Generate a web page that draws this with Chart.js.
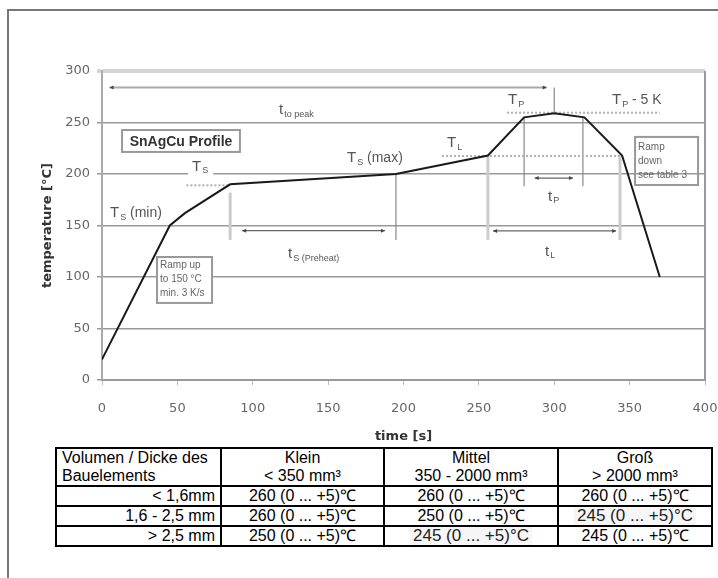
<!DOCTYPE html>
<html>
<head>
<meta charset="utf-8">
<script src="https://cdn.jsdelivr.net/npm/chart.js@4.4.1/dist/chart.umd.min.js"></script>
<style>
body { margin: 0; background: #fff; width: 718px; height: 578px; overflow: hidden; position: relative; font-family: Arial, "Liberation Sans", sans-serif; }
#frame { position: absolute; left: 7px; top: 9px; width: 720px; height: 580px; border-left: 2px solid #777; border-top: 2px solid #777; }
#profil { position: absolute; left: 0; top: 0; }
#tabelle { position: absolute; left: 55px; top: 447px; width: 656px; border-collapse: collapse; table-layout: fixed; font-size: 16px; color: #000; }
#tabelle td { border: 2px solid #000; padding: 0 5px; line-height: 18px; height: 18px; white-space: nowrap; text-align: center; overflow: hidden; }
#tabelle td.kopf1 { text-align: left; }
#tabelle td.zeile { text-align: right; }
#tabelle tr.kopf td { border-bottom: 2px solid #000; }
.grau { font-size: 17px; color: #222; border-bottom: 1px dotted #999; background: #f6f6f6; padding: 0 3px; }
</style>
</head>
<body>
<div id="frame"></div>
<canvas id="profil" width="718" height="445"></canvas>
<table id="tabelle">
  <colgroup><col style="width:165px"><col style="width:163px"><col style="width:174px"><col style="width:154px"></colgroup>
  <tbody></tbody>
</table>
<script>
// Lötprofil SnAgCu - Daten

const zeit = [0, 45, 55, 85, 195, 256, 280, 300, 320, 345, 370];
const temperatur = [20, 150, 162, 190, 200, 218, 255, 259, 255, 218, 100];

const xTicks = [0, 50, 100, 150, 200, 250, 300, 350, 400];
const yTicks = [0, 50, 100, 150, 200, 250, 300];

// Beschriftungen im Diagramm: [zeit, temperatur, haupt, index, rest]
const beschriftungen = [
    [117.4, 262, 't', 'to peak', ''],
    [59.7, 206.8, 'T', 'S', ''],
    [5.3, 162, 'T', 'S', ' (min)'],
    [123.4, 122.3, 't', 'S (Preheat)', ''],
    [162.5, 215.5, 'T', 'S', ' (max)'],
    [228.9, 230, 'T', 'L', ''],
    [269.3, 271.8, 'T', 'P', ''],
    [338.3, 271.8, 'T', 'P', ' - 5 K'],
    [295.9, 177.7, 't', 'P', ''],
    [293.9, 124.3, 't', 'L', '']
];

// Pfeile (waagrecht): [temperatur, von, bis]
const pfeile = [
    [284, 5, 295],
    [145, 93, 187.7],
    [196, 287, 312.4],
    [144.7, 259.4, 341]
];

// gepunktete Linien: [temperatur, von, bis]
const punktLinien = [
    [189, 56, 85],
    [217.5, 225.5, 345.6],
    [259.5, 268.7, 370]
];

// senkrechte Linien: [zeit, von, bis, hell]
const senkrechte = [
    [300, 284, 260, false],
    [85, 182, 136, true],
    [195, 200, 136, false],
    [280, 255, 188, false],
    [319, 255, 188, false],
    [256, 217.5, 136, true],
    [343.6, 217.5, 136, true]
];

// Kästen: [zeit1, zeit2, temp1, temp2, zeilen]
const profilKasten = [13.3, 91.5, 242.7, 221.4, ['SnAgCu Profile']];
const rampeKasten = [36.5, 73, 119.4, 74.8, ['Ramp up', 'to 150 °C', 'min. 3 K/s']];
const abKasten = [353.6, 395.4, 236, 189.3, ['Ramp', 'down', 'see table 3']];

// Tabelle
const kopfZeile = ['Volumen / Dicke des<br>Bauelements', 'Klein<br>&lt; 350 mm³', 'Mittel<br>350 - 2000 mm³', 'Groß<br>&gt; 2000 mm³'];
const dicken = ['&lt; 1,6mm', '1,6 - 2,5 mm', '&gt; 2,5 mm'];
const werteKlein = ['260 (0 ... +5)℃', '260 (0 ... +5)℃', '250 (0 ... +5)℃'];
const werteMittel = ['260 (0 ... +5)℃', '250 (0 ... +5)℃', '245 (0 ... +5)°C'];
const werteGross = ['260 (0 ... +5)℃', '245 (0 ... +5)°C', '245 (0 ... +5)℃'];

function baueTabelle() {
    const tbody = document.querySelector('#tabelle tbody');
    let html = '<tr class="kopf">';
    kopfZeile.forEach((k, i) => {
        html += '<td class="' + (i === 0 ? 'kopf1' : '') + '">' + k + '</td>';
    });
    html += '</tr>';
    dicken.forEach((d, i) => {
        html += '<tr><td class="zeile">' + d + '</td>';
        [werteKlein[i], werteMittel[i], werteGross[i]].forEach(w => {
            if (w.endsWith('°C')) {
                html += '<td><span class="grau">' + w + '</span></td>';
            } else {
                html += '<td>' + w + '</td>';
            }
        });
        html += '</tr>';
    });
    tbody.innerHTML = html;
}

function pfeilSpitze(ctx, px, py, richtung) {
    ctx.beginPath();
    ctx.moveTo(px, py);
    ctx.lineTo(px - 4 * richtung, py - 2);
    ctx.lineTo(px - 4 * richtung, py + 2);
    ctx.closePath();
    ctx.fill();
}

function kasten(ctx, X, Y, k, fuellen) {
    const x1 = X(k[0]), x2 = X(k[1]), y1 = Y(k[2]), y2 = Y(k[3]);
    if (fuellen) {
        ctx.fillStyle = '#fff';
        ctx.fillRect(x1, y1, x2 - x1, y2 - y1);
    }
    ctx.strokeStyle = '#999';
    ctx.lineWidth = 2;
    ctx.setLineDash([]);
    ctx.strokeRect(x1, y1, x2 - x1, y2 - y1);
}

const annotationen = {
    id: 'annotationen',
    beforeDatasetsDraw(chart) {
        const ctx = chart.ctx;
        const X = v => chart.scales.x.getPixelForValue(v);
        const Y = v => chart.scales.y.getPixelForValue(v);
        ctx.save();

        // rechter Rand
        ctx.strokeStyle = '#999';
        ctx.lineWidth = 2;
        ctx.beginPath();
        ctx.moveTo(X(400), Y(300));
        ctx.lineTo(X(400), Y(0));
        ctx.stroke();

        senkrechte.forEach(s => {
            ctx.strokeStyle = s[3] ? '#ccc' : '#888';
            ctx.lineWidth = s[3] ? 3 : 1.2;
            ctx.beginPath();
            ctx.moveTo(X(s[0]), Y(s[1]));
            ctx.lineTo(X(s[0]), Y(s[2]));
            ctx.stroke();
        });

        ctx.setLineDash([2, 2]);
        ctx.strokeStyle = '#b0b0b0';
        ctx.lineWidth = 2;
        punktLinien.forEach(p => {
            ctx.beginPath();
            ctx.moveTo(X(p[1]), Y(p[0]));
            ctx.lineTo(X(p[2]), Y(p[0]));
            ctx.stroke();
        });
        ctx.setLineDash([]);

        pfeile.forEach((p, i) => {
            ctx.strokeStyle = i === 0 ? '#aaa' : '#666';
            ctx.lineWidth = i === 0 ? 2 : 1.2;
            ctx.beginPath();
            ctx.moveTo(X(p[1]), Y(p[0]));
            ctx.lineTo(X(p[2]), Y(p[0]));
            ctx.stroke();
            ctx.fillStyle = '#444';
            pfeilSpitze(ctx, X(p[1]), Y(p[0]), -1);
            pfeilSpitze(ctx, X(p[2]), Y(p[0]), 1);
        });

        kasten(ctx, X, Y, profilKasten, true);
        kasten(ctx, X, Y, rampeKasten, true);
        kasten(ctx, X, Y, abKasten, false);

        ctx.fillStyle = '#333';
        ctx.font = 'bold 14px Arial';
        ctx.textAlign = 'center';
        ctx.textBaseline = 'middle';
        ctx.fillText(profilKasten[4][0], (X(profilKasten[0]) + X(profilKasten[1])) / 2, (Y(profilKasten[2]) + Y(profilKasten[3])) / 2 + 1);

        ctx.fillStyle = '#666';
        ctx.font = '10px Arial';
        ctx.textAlign = 'left';
        rampeKasten[4].forEach((z, i) => {
            ctx.fillText(z, X(rampeKasten[0]) + 3, Y(rampeKasten[2]) + 8 + i * 14);
        });
        abKasten[4].forEach((z, i) => {
            ctx.fillText(z, X(abKasten[0]) + 3, Y(abKasten[2]) + 10 + i * 14);
        });
        ctx.restore();
    },
    afterDatasetsDraw(chart) {
        const ctx = chart.ctx;
        const X = v => chart.scales.x.getPixelForValue(v);
        const Y = v => chart.scales.y.getPixelForValue(v);
        ctx.save();
        ctx.textBaseline = 'middle';
        ctx.textAlign = 'left';
        beschriftungen.forEach((b, i) => {
            const px = X(b[0]), py = Y(b[1]);
            ctx.font = '15px Arial';
            const w1 = ctx.measureText(b[2]).width;
            ctx.font = '9px Arial';
            const w2 = ctx.measureText(b[3]).width;
            ctx.font = '14px Arial';
            const w3 = ctx.measureText(b[4]).width;
            if (i === 1) {
                ctx.fillStyle = '#fff';
                ctx.fillRect(px - 4, py - 9, w1 + w2 + w3 + 10, 17);
            }
            ctx.fillStyle = '#555';
            ctx.font = '15px Arial';
            ctx.fillText(b[2], px, py);
            ctx.font = '9px Arial';
            ctx.fillText(b[3], px + w1 + 1, py + 4);
            ctx.font = '14px Arial';
            ctx.fillText(b[4], px + w1 + w2 + 1, py);
        });
        ctx.restore();
    }
};

function erstelleProfil() {
    const ctx = document.getElementById('profil');
    new Chart(ctx.getContext('2d'), {
        type: 'line',
        data: {
            datasets: [{
                data: zeit.map((t, i) => ({ x: t, y: temperatur[i] })),
                borderColor: '#1a1a1a',
                borderWidth: 2,
                pointRadius: 0,
                tension: 0,
                fill: false
            }]
        },
        options: {
            responsive: false,
            animation: false,
            layout: { padding: { top: 71, right: 13, left: 0, bottom: 0 } },
            plugins: {
                legend: { display: false },
                tooltip: { enabled: false }
            },
            scales: {
                x: {
                    type: 'linear',
                    min: 0,
                    max: 400,
                    afterFit: function(scale) {
                        scale.height = 65;
                        scale.paddingLeft = 0;
                        scale.paddingRight = 0;
                    },
                    afterBuildTicks: function(scale) { scale.ticks = xTicks.map(v => ({ value: v })); },
                    grid: { drawOnChartArea: false, drawTicks: true, tickLength: 5, color: '#bbb' },
                    border: { color: '#999', width: 2 },
                    ticks: { color: '#666', padding: 16, maxRotation: 0, font: { family: 'DejaVu Sans', size: 13 } },
                    title: { display: true, text: 'time [s]', color: '#333', padding: { top: 0, bottom: 1 }, font: { family: 'DejaVu Sans', size: 13, weight: 'bold' } }
                },
                y: {
                    min: 0,
                    max: 300,
                    afterFit: function(scale) {
                        scale.width = 102;
                        scale.paddingTop = 0;
                        scale.paddingBottom = 0;
                    },
                    afterBuildTicks: function(scale) { scale.ticks = yTicks.map(v => ({ value: v })); },
                    grid: {
                        tickLength: 5,
                        color: c => c.tick && c.tick.value === 300 ? '#d4d4d4' : '#999',
                        lineWidth: c => c.tick && c.tick.value === 300 ? 4 : 1.5
                    },
                    border: { color: '#aaa', width: 2 },
                    ticks: { color: '#666', padding: 7, font: { family: 'DejaVu Sans', size: 13 } },
                    title: { display: true, text: 'temperature [°C]', color: '#333', padding: { top: 40, bottom: 0 }, font: { family: 'DejaVu Sans', size: 13, weight: 'bold' } }
                }
            }
        },
        plugins: [annotationen]
    });
}

baueTabelle();
erstelleProfil();
</script>
</body>
</html>
